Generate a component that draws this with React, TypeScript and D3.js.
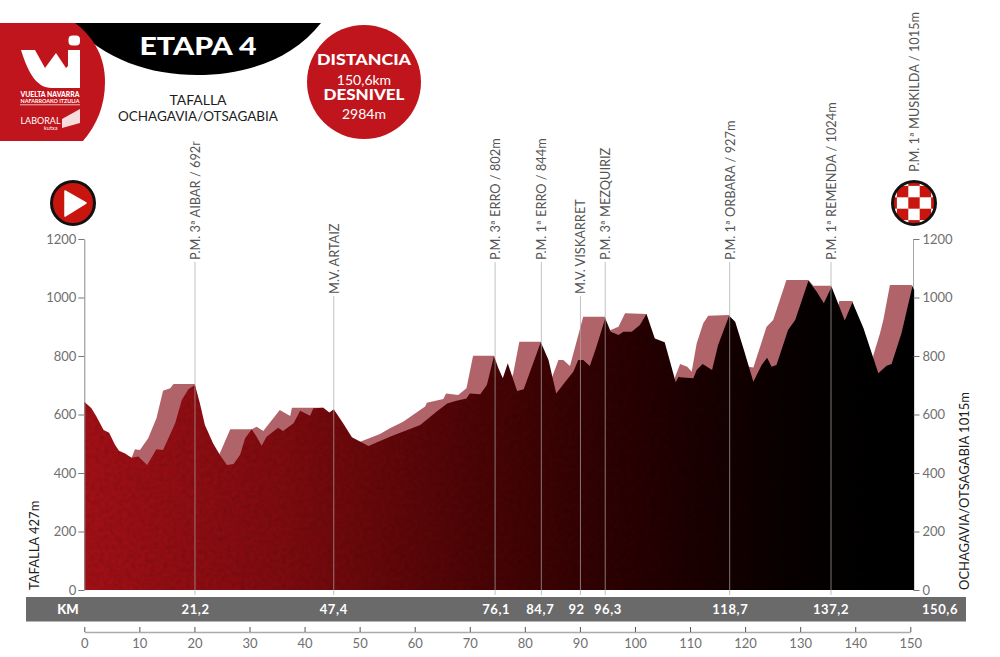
import React, { useEffect, useRef } from "react";
import * as d3 from "d3";

// Main profile
const profileKm = [
  0, 0.7, 1.3, 2.2, 3.5, 4.5, 5.6, 6.3, 7.4, 8.6, 9.8, 11.4, 13.1, 14.3, 16.5, 17.7, 18.9, 20.1,
  21, 21.9, 23.4, 24.6, 25.9, 27.1, 28.3, 29.2, 30.4, 31.3, 32.2, 33.1, 35.2, 36.1, 38, 39.2, 41,
  41.6, 43.4, 44.5, 45.3, 47, 48.6, 51.6, 55.5, 61, 64, 65.9, 67.6, 69.4, 70, 71.9, 73.1, 74.4,
  75.2, 76, 76.9, 78.6, 79.8, 81.5, 82.9, 84.3, 85.7, 87.6, 88.8, 89.7, 90.6, 91.8, 93, 94.6, 95.6,
  97, 97.9, 99.4, 100.9, 102.1, 103.6, 105.4, 107.4, 107.9, 108.2, 110.6, 111.2, 112.3, 114, 115.1,
  117.1, 118.2, 119.7, 121.5, 123, 124, 124.8, 125.7, 127.8, 129.1, 131.5, 133, 134.3, 135.7, 138.1,
  139.5, 141.5, 144.2, 145.7, 146.6, 148.4, 150.4, 150.7,
];
const profileElev = [
  644, 632, 621, 593, 547, 538, 496, 476, 467, 452, 456, 427, 481, 479, 570, 650, 686, 701,
  638, 564, 501, 462, 427, 431, 462, 519, 550, 524, 493, 524, 555, 544, 570, 613, 596,
  621, 623, 607, 618, 570, 522, 492, 524, 564, 610, 638, 647, 655, 672, 669, 701, 800,
  758, 724, 775, 680, 686, 775, 847, 786, 672, 718, 746, 786, 786, 766, 832, 929, 883,
  872, 883, 883, 906, 944, 860, 847, 710, 729, 727, 724, 752, 773, 752, 838,
  938, 917, 826, 712, 769, 794, 763, 769, 889, 923, 1057, 1020, 980, 1037, 921,
  984, 895, 741, 767, 773, 878, 1039, 1026,
];

// Lighter raised profile behind the main one
const shadowKm = [
  8.6, 9.2, 10.1, 11.6, 13.1, 14.3, 15.6, 16.2, 20.1, 21, 24, 24.6, 26.5, 30.4, 31.3, 32.5, 35.5,
  37.4, 37.7, 43.4, 44.5, 45.3, 47, 48.6, 50.1, 53.7, 55.5, 57.9, 61.9, 62.2, 65.2, 65.7, 67.9, 69.4,
  70.6, 74.4, 75.5, 77.2, 77.9, 79, 82.9, 84.5, 85.1, 86.1, 87, 88.2, 90.6, 94.6, 95, 95.6, 97, 98.2,
  102.1, 103, 107, 107.3, 108.2, 109.5, 110.3, 111.2, 112.4, 113.3, 117.1, 118, 119.9, 120.6, 121.5,
  123.9, 125.1, 127.5, 131.5, 132.4, 135.7, 136, 136.8, 137.1, 139.5, 141, 143, 143.3, 144.5, 145.1,
  146.3, 150.2, 150.4,
];
const shadowElev = [
  452, 481, 479, 519, 587, 681, 690, 704, 704, 600, 450, 467, 550, 550, 558, 544, 615,
  595, 623, 623, 600, 600, 560, 515, 507, 533, 553, 575, 627, 640, 653, 672, 667, 690,
  801, 801, 700, 700, 741, 849, 849, 700, 735, 786, 786, 766, 934, 934, 880, 889, 900, 946,
  944, 850, 700, 729, 773, 763, 746, 843, 912, 938, 940, 880, 790, 763, 761,
  900, 923, 1060, 1060, 1040, 1040, 980, 960, 988, 988, 860, 760, 803, 878, 923,
  1043, 1043, 1039,
];

const yTicks = [0, 200, 400, 600, 800, 1000, 1200];
const xTicks = d3.range(0, 151, 10);

// Marker lines with their climb / pass names
const markerKm = [20.1, 45.3, 74.6, 83, 90.1, 94.6, 117.2, 135.6];
const markerNames = [
  "P.M. 3ª AIBAR / 692m",
  "M.V. ARTAIZ",
  "P.M. 3ª ERRO / 802m",
  "P.M. 1ª ERRO / 844m",
  "M.V. VISKARRET",
  "P.M. 3ª MEZQUIRIZ",
  "P.M. 1ª ORBARA / 927m",
  "P.M. 1ª REMENDA / 1024m",
];
const markerTops = [262, 296, 262, 262, 296, 262, 262, 262];

const bandKm = [20.2, 45.3, 74.8, 82.8, 89.4, 95.1, 117.3, 135.6, 155.4];
const bandLabels = ["21,2", "47,4", "76,1", "84,7", "92", "96,3", "118,7", "137,2", "150,6"];

// Colour stops for the dark-red to black fill
const gradOffsets = ["0%", "25%", "50%", "70%", "88%", "100%"];
const gradColors = ["#a01016", "#7d0b0f", "#4a0405", "#260102", "#090000", "#000000"];

const checkerCols = [0, 1, 2, 3, 4];
const checkerRows = [0, 1, 2, 3, 4];

const FONT = "Lato, 'Open Sans', sans-serif";

export default function App() {
  const xAxisRef = useRef<SVGGElement>(null);
  const leftRef = useRef<SVGGElement>(null);
  const rightRef = useRef<SVGGElement>(null);

  const x = d3.scaleLinear().domain([0, 150]).range([84.3, 910.3]);
  const y = d3.scaleLinear().domain([0, 1200]).range([590, 239]);

  const area = d3
    .area<number>()
    .x((d) => x(d))
    .y0(y(0));

  const profilePath = area.y1((_, i) => y(profileElev[i]))(profileKm) as string;
  const shadowPath = area.y1((_, i) => y(shadowElev[i]))(shadowKm) as string;

  useEffect(() => {
    const styleAxis = (g: d3.Selection<SVGGElement, unknown, null, undefined>) => {
      g.selectAll("text")
        .attr("fill", "#6f6f6f")
        .attr("font-family", FONT)
        .attr("font-size", 13);
      g.selectAll(".tick line").attr("stroke", "#777");
    };

    d3.select(xAxisRef.current!)
      .call(d3.axisBottom(x).tickValues(xTicks).tickSize(5).tickSizeOuter(0).tickFormat(d3.format("d")))
      .call(styleAxis)
      .call((g) => {
        g.select(".domain").attr("stroke", "#aaa").attr("stroke-width", 1.6);
        g.selectAll(".tick line").attr("y1", -5).attr("y2", 0).attr("stroke", "#555");
        g.selectAll("text").attr("y", 7);
      });

    d3.select(leftRef.current!)
      .call(d3.axisLeft(y).tickValues(yTicks).tickSize(6).tickPadding(2).tickSizeOuter(0).tickFormat(d3.format("d")))
      .call(styleAxis)
      .call((g) => g.select(".domain").attr("stroke", "#888"));

    d3.select(rightRef.current!)
      .call(d3.axisRight(y).tickValues(yTicks).tickSize(6).tickPadding(3).tickSizeOuter(0).tickFormat(d3.format("d")))
      .call(styleAxis)
      .call((g) => g.select(".domain").remove());
  }, []);

  return (
    <svg
      width={1000}
      height={657}
      style={{ position: "absolute", left: 0, top: 0, background: "#fff" }}
      fontFamily={FONT}
    >
      <defs>
        <linearGradient id="profileFill" gradientUnits="userSpaceOnUse" x1={84} x2={880} y1={0} y2={0}>
          {gradOffsets.map((o, i) => (
            <stop key={o} offset={o} stopColor={gradColors[i]} />
          ))}
        </linearGradient>
        {/* mottled print texture on the profile */}
        <filter id="mottle" x="0" y="0" width="100%" height="100%">
          <feTurbulence type="fractalNoise" baseFrequency="0.22" numOctaves={2} seed={4} />
          <feColorMatrix values="0 0 0 0 0  0 0 0 0 0  0 0 0 0 0  1.6 0 0 0 -0.62" />
          <feComposite in2="SourceAlpha" operator="in" />
        </filter>
        <clipPath id="aibarClip">
          <rect x={180} y={141.5} width={30} height={130} />
        </clipPath>
        <clipPath id="finishClip">
          <circle cx={914} cy={203} r={21} />
        </clipPath>
      </defs>

      {/* header */}
      <path d="M70 23H321C292 60 245 75 197 75C150 75 105 60 70 23Z" fill="#000" />
      <path d="M0 23H75C95 38 105 58 105 82C105 105 97 125 83 141H0Z" fill="#c1151d" />
      <g fill="#fff">
        <path d="M21 50H35L45 68L56 53L66 68L68 66V50H80V88H52C36 88 28 72 21 50Z" />
        <rect x={68.5} y={35.5} width={11.5} height={10} rx={4} />
        <text x={50} y={97} fontSize={6.6} fontWeight={900} textAnchor="middle" textLength={59} lengthAdjust="spacingAndGlyphs">VUELTA NAVARRA</text>
        <text x={50} y={102.5} fontSize={4.6} fontWeight={700} textAnchor="middle" textLength={59} lengthAdjust="spacingAndGlyphs">NAFARROAKO ITZULIA</text>
        <rect x={20} y={104.5} width={60} height={0.7} />
        <text x={20.5} y={124} fontSize={8.6} textLength={40} lengthAdjust="spacingAndGlyphs">LABORAL</text>
        <text x={44} y={130} fontSize={5.6}>kutxa</text>
        <path d="M62 119L80 109V123L62 128Z" opacity={0.85} />
      </g>
      <text x={198} y={55} fontSize={25} fontWeight={900} fill="#fff" textAnchor="middle" textLength={117} lengthAdjust="spacingAndGlyphs">ETAPA 4</text>
      <g fill="#1d1d1d" textAnchor="middle" fontSize={14}>
        <text x={198} y={105}>TAFALLA</text>
        <text x={198} y={121} textLength={160} lengthAdjust="spacingAndGlyphs">OCHAGAVIA/OTSAGABIA</text>
      </g>

      <circle cx={364} cy={82} r={57} fill="#c1151d" />
      <g fill="#fff" textAnchor="middle">
        <text x={364} y={65} fontSize={14.5} fontWeight={900} textLength={94} lengthAdjust="spacingAndGlyphs">DISTANCIA</text>
        <text x={364} y={85} fontSize={14}>150,6km</text>
        <text x={364} y={100} fontSize={14.5} fontWeight={900} textLength={81} lengthAdjust="spacingAndGlyphs">DESNIVEL</text>
        <text x={364} y={119} fontSize={14}>2984m</text>
      </g>

      {/* start and finish badges */}
      <circle cx={73} cy={203} r={21.5} fill="#c8160f" stroke="#111" strokeWidth={3} />
      <path d="M65 191L86 203L65 216Z" fill="#fff" stroke="#fff" strokeWidth={1.5} strokeLinejoin="round" />
      <circle cx={914} cy={203} r={21.5} fill="#fff" />
      <g clipPath="url(#finishClip)">
        {checkerRows.map((r) =>
          checkerCols
            .filter((c) => (r + c) % 2 === 0)
            .map((c) => (
              <rect key={`${r}-${c}`} x={885.5 + c * 11.4} y={174.5 + r * 11.4} width={11.4} height={11.4} fill="#c8160f" />
            ))
        )}
      </g>
      <circle cx={914} cy={203} r={21.5} fill="none" stroke="#111" strokeWidth={3} />

      {/* profile */}
      <path d={shadowPath} fill="#b0646a" />
      <path d={profilePath} fill="url(#profileFill)" />
      <path d={profilePath} fill="#000" filter="url(#mottle)" opacity={0.14} />

      {/* markers */}
      {markerKm.map((km, i) => (
        <g key={markerNames[i]}>
          <line x1={x(km)} x2={x(km)} y1={markerTops[i]} y2={595} stroke="#a8a8a8" strokeOpacity={0.7} />
          <g clipPath={i === 0 ? "url(#aibarClip)" : undefined}>
            <text
              transform={`translate(${x(km) + 5},${markerTops[i] - 2}) rotate(-90)`}
              fontSize={12.8}
              fill="#555"
            >
              {markerNames[i]}
            </text>
          </g>
        </g>
      ))}
      <line x1={913.5} x2={913.5} y1={239} y2={288} stroke="#a8a8a8" />
      <text transform="translate(918.5,172) rotate(-90)" fontSize={12.8} fill="#555">P.M. 1ª MUSKILDA / 1015m</text>

      <g ref={leftRef} transform="translate(84.3,0)" />
      <g ref={rightRef} transform="translate(913.5,0)" />

      <text transform="translate(39,590) rotate(-90)" fontSize={13} fill="#1d1d1d">TAFALLA 427m</text>
      <text transform="translate(969,590) rotate(-90)" fontSize={13} fill="#1d1d1d">OCHAGAVIA/OTSAGABIA 1015m</text>

      {/* km band */}
      <rect x={26} y={597} width={940} height={24.5} fill="#6a6a6a" />
      <text x={68} y={614} fontSize={13} fontWeight={900} fill="#fff" textAnchor="middle">KM</text>
      {bandKm.map((km, i) => (
        <text key={bandLabels[i]} x={x(km)} y={614} fontSize={13} fontWeight={700} fill="#fff" textAnchor="middle" letterSpacing={0.6}>
          {bandLabels[i]}
        </text>
      ))}

      <g ref={xAxisRef} transform="translate(0,632)" />
    </svg>
  );
}
